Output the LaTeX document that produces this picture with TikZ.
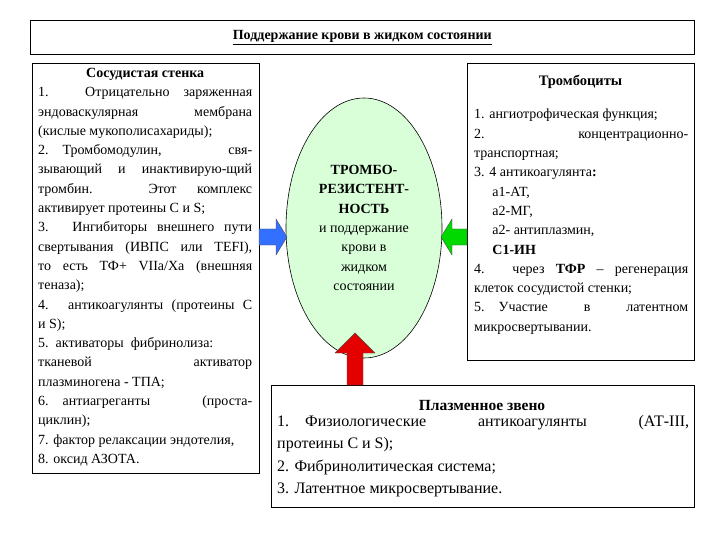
\documentclass[tikz,border=0pt]{standalone}
\usepackage{fontspec}
\setmainfont{Liberation Serif}
\usetikzlibrary{calc}
\begin{document}
\begin{tikzpicture}[x=1pt,y=-1pt,
  box/.style={draw=black,line width=0.6pt},
  txt/.style={inner sep=0pt,anchor=north west,align=justify,font=\fontsize{14}{19.3}\selectfont},
  blockarrow/.style={draw=black!70,line width=0.4pt}]
\useasboundingbox (0,0) rectangle (720,540);
\node[box,minimum width=664,minimum height=34,anchor=north west,inner sep=0pt] (title) at (30,20)
  {\fontsize{14}{15}\selectfont\bfseries\underline{Поддержание крови в жидком состоянии}};
\node[box,minimum width=227,minimum height=410,anchor=north west,inner sep=0pt] (lbox) at (32,63) {};
\node[txt,text width=214] (ltxt) at (38,68) {\hfil\textbf{Сосудистая стенка}\hfil\par
1. Отрицательно заряженная\break эндоваскулярная мембрана\break (кислые мукополисахариды);\par
2.\quad Тромбомодулин, свя-\break зывающий и инактивирую-щий\break тромбин. Этот комплекс\break активирует протеины С и S;\par
3. Ингибиторы внешнего пути\break свертывания (ИВПС или TEFI),\break то есть ТФ+ VIIa/Xa (внешняя\break теназа);\par
4. антикоагулянты (протеины С\break и S);\par
5.\ \ активаторы\ \ фибринолиза:\par
тканевой\hfill активатор\break плазминогена - ТПА;\par
6.\quad антиагреганты\hfill (проста-\break циклин);\par
7. фактор релаксации эндотелия,\par 8. оксид АЗОТА.\par};
\node[box,minimum width=227,minimum height=297,anchor=north west,inner sep=0pt] (rbox) at (467,63) {};
\node[font=\fontsize{14.5}{16}\selectfont\bfseries] (rtitle) at (580.5,82) {Тромбоциты};
\node[txt,text width=214] (rtxt) at (474,109) {1. ангиотрофическая функция;\par 2.\hfill концентрационно-\break транспортная;\par
3. 4 антикоагулянта\textbf{:}\par
\hspace*{1.3em}а1-АТ,\par
\hspace*{1.3em}а2-МГ,\par
\hspace*{1.3em}а2- антиплазмин,\par
\hspace*{1.3em}\textbf{С1-ИН}\par
4. через \textbf{ТФР} – регенерация\break клеток сосудистой стенки;\par
5.\quad Участие в латентном\break микросвертывании.\par};
\draw[box,fill=green!15!white] (364,228) ellipse (78 and 130);
\node[align=center,font=\fontsize{14}{19.3}\selectfont] (ell) at (364,228)
  {\textbf{ТРОМБО-}\\\textbf{РЕЗИСТЕНТ-}\\\textbf{НОСТЬ}\\и поддержание\\крови в\\жидком\\состоянии};
\node[box,minimum width=423,minimum height=122,anchor=north west,inner sep=0pt] (pbox) at (271,385) {};
\node[font=\fontsize{15.5}{16}\selectfont\bfseries] (ptitle) at (482,405) {Плазменное звено};
\node[txt,text width=412,font=\fontsize{16}{22.5}\selectfont] (ptxt) at (277,415) {1.\quad Физиологические антикоагулянты (АТ-III,\break протеины С и S);\par
2. Фибринолитическая система;\par
3. Латентное микросвертывание.\par};
% block arrows
\draw[blockarrow,fill=blue!70!cyan!80] (259,229) -- (276,229) -- (276,219) -- (287,237) -- (276,255) -- (276,245) -- (259,245) -- cycle;
\draw[blockarrow,fill=green!85!black] (467,229) -- (452,229) -- (452,219) -- (441,237) -- (452,255) -- (452,245) -- (467,245) -- cycle;
\draw[blockarrow,fill=red!90!black] (347,385) -- (347,353) -- (335,353) -- (355,333) -- (375,353) -- (363,353) -- (363,385) -- cycle;
\end{tikzpicture}
\end{document}
